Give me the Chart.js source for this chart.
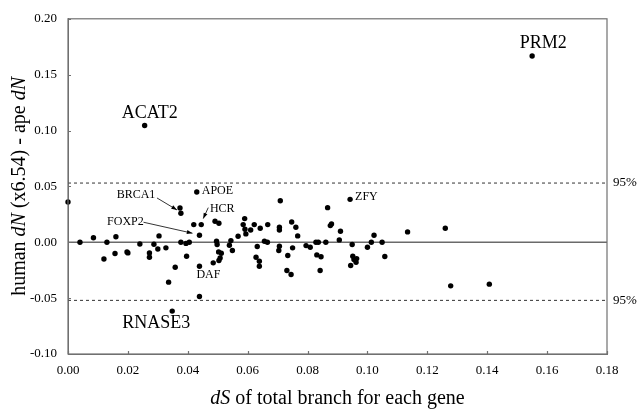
<!DOCTYPE html>
<html>
<head>
<meta charset="utf-8">
<script src="https://cdn.jsdelivr.net/npm/chart.js@4.4.1/dist/chart.umd.min.js"></script>
<style>
    body { margin: 0; background: #fff; }
    canvas { display: block; }
</style>
</head>
<body>
<canvas id="grafico" width="640" height="412"></canvas>
<script>
// dS (x) and human dN x6.54 - ape dN (y) per gene
const dsValues = [
    0.000, 0.004, 0.0085, 0.013, 0.016, 0.012, 0.0157, 0.0197, 0.020, 0.024,
    0.0272, 0.0272, 0.0287, 0.0304, 0.030, 0.0256, 0.0374, 0.0377, 0.042, 0.0445,
    0.0439, 0.0491, 0.0504, 0.0327, 0.0377, 0.0394, 0.0405, 0.0396, 0.0358, 0.0336,
    0.0439, 0.0439, 0.0348, 0.043, 0.0496, 0.0498, 0.0544, 0.0539, 0.0549, 0.0503,
    0.0512, 0.0508, 0.0504, 0.0485, 0.0568, 0.059, 0.0585, 0.0591, 0.0594, 0.061,
    0.0622, 0.0632, 0.0628, 0.0639, 0.0639, 0.0709, 0.0642, 0.0667, 0.0706, 0.0706,
    0.0656, 0.0666, 0.0706, 0.0704, 0.0734, 0.0747, 0.0761, 0.0767, 0.075, 0.0731,
    0.0745, 0.0795, 0.0809, 0.0828, 0.0836, 0.0861, 0.0831, 0.0845, 0.0842, 0.0867,
    0.0876, 0.088, 0.091, 0.0906, 0.0942, 0.0949, 0.0951, 0.0955, 0.0964, 0.0962,
    0.0944, 0.100, 0.1013, 0.1022, 0.1049, 0.1058, 0.1134, 0.126, 0.1278, 0.1407,
    0.155
];
const dnDiffValues = [
    0.036, 0.000, 0.004, 0.000, 0.005, -0.015, -0.010, -0.0086, -0.0095, -0.0015,
    -0.0095, -0.0134, -0.0018, 0.0057, -0.006, 0.1045, 0.0307, 0.026, 0.0158, 0.0158,
    0.0063, 0.0188, 0.017, -0.005, 0.000, -0.001, 0.000, -0.0125, -0.0223, -0.0357,
    -0.0214, -0.0485, -0.0616, 0.045, 0.0009, -0.002, 0.0015, -0.0027, -0.0074, -0.0086,
    -0.0098, -0.014, -0.0163, -0.0184, 0.0054, 0.0212, 0.0158, 0.0116, 0.0075, 0.011,
    0.0158, -0.0038, -0.0134, -0.017, -0.0214, 0.0372, 0.0125, 0.0158, 0.0134, 0.011,
    0.0009, 0.000, -0.0036, -0.0074, -0.0119, 0.0182, 0.0134, 0.0057, -0.005, -0.0253,
    -0.0288, -0.003, -0.0045, 0.000, 0.000, 0.000, -0.0113, -0.013, -0.0253, 0.031,
    0.0149, 0.0164, 0.0098, 0.0021, 0.0384, -0.002, -0.0125, -0.0155, -0.0146, -0.0179,
    -0.0208, -0.0044, 0.000, 0.0063, 0.000, -0.0128, 0.0093, 0.0125, -0.039, -0.0375,
    0.1667
];

// Named genes: index into the arrays above
const geneNames = ['ACAT2', 'PRM2', 'RNASE3', 'APOE', 'BRCA1', 'FOXP2', 'HCR', 'DAF', 'ZFY'];
const genePointIndex = [15, 100, 32, 33, 16, 20, 19, 30, 84];

// 95% limits
const limitUpper = 0.053;
const limitLower = -0.052;
const xTicksMax = 0.18;

// Label layout (pixel offsets from the point, text size, optional arrow start)
const labelStyle = {
    ACAT2:  { dx: 5,   dy: -12,  size: 18, align: 'center' },
    PRM2:   { dx: 11,  dy: -13,  size: 18, align: 'center' },
    RNASE3: { dx: -16, dy: 12,   size: 18, align: 'center' },
    APOE:   { dx: 5,   dy: -1,   size: 12, align: 'left' },
    BRCA1:  { dx: -44, dy: -13,  size: 12, align: 'center', arrow: [-23, -10, -3, 2] },
    FOXP2:  { dx: -74, dy: -13,  size: 12, align: 'center', arrow: [-56, -13, -7, -2] },
    HCR:    { dx: 21,  dy: -16,  size: 12, align: 'center', arrow: [7, -17, 2, -6] },
    DAF:    { dx: 9,   dy: 9,    size: 12, align: 'center' },
    ZFY:    { dx: 5,   dy: -3,   size: 12, align: 'left' }
};

const serif = "'Liberation Serif', 'DejaVu Serif', serif";

function drawArrow(ctx, x1, y1, x2, y2) {
    ctx.beginPath();
    ctx.moveTo(x1, y1);
    ctx.lineTo(x2, y2);
    ctx.stroke();
    const ang = Math.atan2(y2 - y1, x2 - x1);
    const len = 6;
    ctx.beginPath();
    ctx.moveTo(x2, y2);
    ctx.lineTo(x2 - len * Math.cos(ang - 0.35), y2 - len * Math.sin(ang - 0.35));
    ctx.lineTo(x2 - len * Math.cos(ang + 0.35), y2 - len * Math.sin(ang + 0.35));
    ctx.closePath();
    ctx.fill();
}

function drawRich(ctx, parts, x, y) {
    // parts: [text, italic]; centered on x
    let total = 0;
    parts.forEach(p => {
        ctx.font = (p[1] ? 'italic ' : '') + '20px ' + serif;
        total += ctx.measureText(p[0]).width;
    });
    let cx = x - total / 2;
    parts.forEach(p => {
        ctx.font = (p[1] ? 'italic ' : '') + '20px ' + serif;
        ctx.fillText(p[0], cx, y);
        cx += ctx.measureText(p[0]).width;
    });
}

const decorPlugin = {
    id: 'decor',
    afterDraw(chart) {
        const ctx = chart.ctx;
        const area = chart.chartArea;
        const xs = chart.scales.x;
        const ys = chart.scales.y;
        ctx.save();

        // frame
        ctx.strokeStyle = '#707070';
        ctx.lineWidth = 1.2;
        ctx.strokeRect(area.left, area.top, area.right - area.left, area.bottom - area.top);

        // inward tick marks
        ctx.beginPath();
        xs.ticks.forEach(t => {
            const px = Math.round(xs.getPixelForValue(t.value)) + 0.5;
            ctx.moveTo(px, area.bottom);
            ctx.lineTo(px, area.bottom - 3);
        });
        ys.ticks.forEach(t => {
            const py = Math.round(ys.getPixelForValue(t.value)) + 0.5;
            ctx.moveTo(area.left, py);
            ctx.lineTo(area.left + 3, py);
        });
        ctx.stroke();

        // 95% labels
        ctx.fillStyle = '#000';
        ctx.font = '13px ' + serif;
        ctx.textBaseline = 'middle';
        ctx.textAlign = 'left';
        ctx.fillText('95%', area.right + 6, ys.getPixelForValue(limitUpper));
        ctx.fillText('95%', area.right + 6, ys.getPixelForValue(limitLower));

        // gene labels
        ctx.strokeStyle = '#000';
        ctx.lineWidth = 0.8;
        geneNames.forEach((name, i) => {
            const k = genePointIndex[i];
            const px = xs.getPixelForValue(dsValues[k]);
            const py = ys.getPixelForValue(dnDiffValues[k]);
            const st = labelStyle[name];
            ctx.font = st.size + 'px ' + serif;
            ctx.textAlign = st.align;
            ctx.fillText(name, px + st.dx, py + st.dy);
            if (st.arrow) {
                const a = st.arrow;
                drawArrow(ctx, px + a[0], py + a[1], px + a[2], py + a[3]);
            }
        });

        // axis titles
        ctx.textAlign = 'left';
        ctx.textBaseline = 'alphabetic';
        drawRich(ctx, [['dS', true], [' of total branch for each gene', false]],
            (area.left + area.right) / 2, 404);

        ctx.translate(25, (area.top + area.bottom) / 2);
        ctx.rotate(-Math.PI / 2);
        drawRich(ctx, [['human ', false], ['dN', true], [' (x6.54) - ape ', false], ['dN', true]], 0, 0);

        ctx.restore();
    }
};

const points = dsValues.map((x, i) => ({ x: x, y: dnDiffValues[i] }));

new Chart(document.getElementById('grafico'), {
    type: 'scatter',
    data: {
        datasets: [{
            data: points,
            backgroundColor: '#000',
            borderWidth: 0,
            pointRadius: 2.7,
            clip: false,
            order: 0
        }, {
            type: 'line',
            data: [{ x: 0, y: 0 }, { x: xTicksMax, y: 0 }],
            borderColor: '#6a6a6a',
            borderWidth: 1.6,
            pointRadius: 0,
            order: 1
        }, {
            type: 'line',
            data: [{ x: 0, y: limitUpper }, { x: xTicksMax, y: limitUpper }],
            borderColor: '#333',
            borderWidth: 1,
            borderDash: [3, 3],
            pointRadius: 0,
            order: 1
        }, {
            type: 'line',
            data: [{ x: 0, y: limitLower }, { x: xTicksMax, y: limitLower }],
            borderColor: '#333',
            borderWidth: 1,
            borderDash: [3, 3],
            pointRadius: 0,
            order: 1
        }]
    },
    options: {
        responsive: false,
        animation: false,
        layout: { padding: { top: 18, right: 33, left: 0, bottom: 0 } },
        plugins: {
            legend: { display: false },
            tooltip: { enabled: false }
        },
        scales: {
            x: {
                type: 'linear',
                min: 0,
                max: xTicksMax,
                afterFit: scale => { scale.height = 58; },
                grid: { display: false, drawTicks: false },
                border: { color: '#707070' },
                ticks: {
                    stepSize: 0.02,
                    padding: 9,
                    color: '#000',
                    font: { family: serif, size: 13 },
                    callback: v => v.toFixed(2)
                }
            },
            y: {
                type: 'linear',
                min: -0.1,
                max: 0.2,
                afterFit: scale => { scale.width = 68; },
                grid: { display: false, drawTicks: false },
                border: { color: '#707070' },
                ticks: {
                    stepSize: 0.05,
                    padding: 11,
                    color: '#000',
                    font: { family: serif, size: 13 },
                    callback: v => v.toFixed(2)
                }
            }
        }
    },
    plugins: [decorPlugin]
});
</script>
</body>
</html>
